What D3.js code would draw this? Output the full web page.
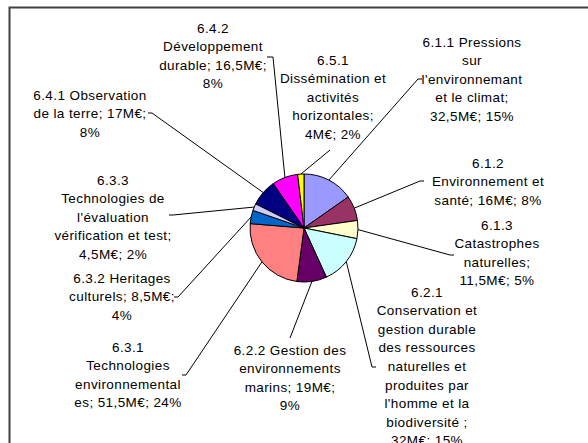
<!DOCTYPE html>
<html>
<head>
<meta charset="utf-8">
<script src="https://cdn.jsdelivr.net/npm/d3@7"></script>
<style>
  body { margin: 0; background: #fff; }
  svg text { font-family: "Liberation Sans", Arial, sans-serif; font-size: 13.5px; letter-spacing: 0.4px; fill: #000; }
</style>
</head>
<body>
<svg id="chart"></svg>
<script>
// values in M€, clockwise from 12 o'clock
const codes = ["6.1.1", "6.1.2", "6.1.3", "6.2.1", "6.2.2", "6.3.1", "6.3.2", "6.3.3", "6.4.1", "6.4.2", "6.5.1"];
const budgets = [32.5, 16, 11.5, 32, 19, 51.5, 8.5, 4.5, 17, 16.5, 4];
const labelLines = [
  ["6.1.1 Pressions", "sur", "l'environnemant", "et le climat;", "32,5M€; 15%"],
  ["6.1.2", "Environnement et", "santé; 16M€; 8%"],
  ["6.1.3", "Catastrophes", "naturelles;", "11,5M€; 5%"],
  ["6.2.1", "Conservation et", "gestion durable", "des ressources", "naturelles et", "produites par", "l'homme et la", "biodiversité ;", "32M€; 15%"],
  ["6.2.2 Gestion des", "environnements", "marins; 19M€;", "9%"],
  ["6.3.1", "Technologies", "environnemental", "es; 51,5M€; 24%"],
  ["6.3.2 Heritages", "culturels; 8,5M€;", "4%"],
  ["6.3.3", "Technologies de", "l'évaluation", "vérification et test;", "4,5M€; 2%"],
  ["6.4.1 Observation", "de la terre; 17M€;", "8%"],
  ["6.4.2", "Développement", "durable; 16,5M€;", "8%"],
  ["6.5.1", "Dissémination et", "activités", "horizontales;", "4M€; 2%"]
];
const sliceColors = ["#9999FF", "#993366", "#FFFFCC", "#CCFFFF", "#660066", "#FF8080", "#0066CC", "#CCCCFF", "#000080", "#FF00FF", "#FFFF00"];

// layout of the label blocks: centre x, first line y, leader end, tick direction
const labelLayout = [
  { x: 472, y: 42, ax: 418, ay: 79, dx: 4 },
  { x: 488, y: 163, ax: 420, ay: 181, dx: 4 },
  { x: 497, y: 225, ax: 450, ay: 255, dx: 4 },
  { x: 427, y: 292, ax: 372, ay: 367, dx: 4 },
  { x: 290, y: 350, ax: 290, ay: 338, dx: 0 },
  { x: 128, y: 347, ax: 186, ay: 375, dx: -4 },
  { x: 122, y: 278, ax: 178, ay: 297, dx: -4 },
  { x: 113, y: 180, ax: 173, ay: 215, dx: -4 },
  { x: 90, y: 95, ax: 152, ay: 113, dx: -4 },
  { x: 213, y: 28, ax: 273, ay: 57, dx: -6 },
  { x: 333, y: 60, ax: 330, ay: 150, dx: 0 }
];

const width = 588;
const height = 443;
const cx = 304;
const cy = 228;
const radius = 54;
const lineHeight = 18.6;

const svg = d3.select("#chart").attr("width", width).attr("height", height);

// frame (only top and left edges are visible in the picture)
svg.append("path")
  .attr("d", `M9.5,${height} V7.5 H${width}`)
  .attr("fill", "none")
  .attr("stroke", "#404040")
  .attr("stroke-width", 2);

const dataset = codes.map((c, i) => ({ code: c, value: budgets[i], lines: labelLines[i], color: sliceColors[i], layout: labelLayout[i] }));

const pie = d3.pie().sort(null).value((d) => d.value);
const arcs = pie(dataset);
const arc = d3.arc().innerRadius(0).outerRadius(radius);

const g = svg.append("g").attr("transform", `translate(${cx},${cy})`);

g.selectAll("path.slice")
  .data(arcs)
  .enter()
  .append("path")
  .attr("class", "slice")
  .attr("d", arc)
  .attr("fill", (d) => d.data.color)
  .attr("stroke", "#000")
  .attr("stroke-width", 1);

// leader lines from the slice edge to the label
const edgePoint = (d) => {
  const a = (d.startAngle + d.endAngle) / 2;
  return [cx + radius * Math.sin(a), cy - radius * Math.cos(a)];
};

svg.selectAll("polyline.leader")
  .data(arcs)
  .enter()
  .append("polyline")
  .attr("class", "leader")
  .attr("points", (d) => {
    const p = edgePoint(d);
    const l = d.data.layout;
    return [p, [l.ax, l.ay], [l.ax + l.dx, l.ay]].map((q) => q.join(",")).join(" ");
  })
  .attr("fill", "none")
  .attr("stroke", "#000")
  .attr("stroke-width", 1);

const labels = svg.selectAll("text.label")
  .data(arcs)
  .enter()
  .append("text")
  .attr("class", "label")
  .attr("text-anchor", "middle");

labels.selectAll("tspan")
  .data((d) => d.data.lines.map((t) => ({ t, l: d.data.layout })))
  .enter()
  .append("tspan")
  .attr("x", (d) => d.l.x)
  .attr("y", (d, i) => d.l.y + 4.5 + i * lineHeight)
  .text((d) => d.t);
</script>
</body>
</html>
